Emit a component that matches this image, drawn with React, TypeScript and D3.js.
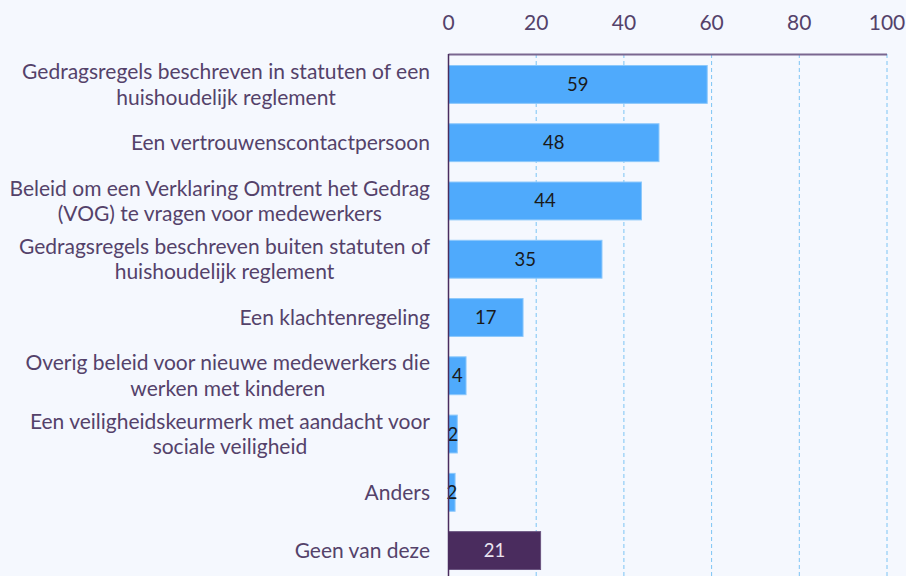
import { useEffect, useRef } from "react";
import * as d3 from "d3";

const categories = [
  ["Gedragsregels beschreven in statuten of een", "huishoudelijk reglement"],
  ["Een vertrouwenscontactpersoon"],
  ["Beleid om een Verklaring Omtrent het Gedrag", "(VOG) te vragen voor medewerkers"],
  ["Gedragsregels beschreven buiten statuten of", "huishoudelijk reglement"],
  ["Een klachtenregeling"],
  ["Overig beleid voor nieuwe medewerkers die", "werken met kinderen"],
  ["Een veiligheidskeurmerk met aandacht voor", "sociale veiligheid"],
  ["Anders"],
  ["Geen van deze"],
];
const values = [59, 48, 44, 35, 17, 4, 2, 1.5, 21];
const labels = ["59", "48", "44", "35", "17", "4", "2", "2", "21"];
const highlighted = [false, false, false, false, false, false, false, false, true];
const ticks = [0, 20, 40, 60, 80, 100];

const W = 906;
const H = 576;
const TEXT = "#54426a";
const BLUE = "#4faafc";
const DARK = "#4a2c5e";

export default function App() {
  const ref = useRef<SVGSVGElement | null>(null);

  useEffect(() => {
    const svg = d3.select(ref.current);
    svg.selectAll("*").remove();

    const x = d3.scaleLinear().domain([0, 100]).range([448.5, 887]);
    const y = d3
      .scaleBand<number>()
      .domain(d3.range(values.length))
      .range([55, 580])
      .paddingInner(0.35)
      .paddingOuter(0.18);

    svg.append("rect").attr("width", W).attr("height", H).attr("fill", "#f5f8fe");

    // gridlines
    svg
      .append("g")
      .selectAll("line")
      .data(ticks.slice(1))
      .join("line")
      .attr("x1", (d) => x(d))
      .attr("x2", (d) => x(d))
      .attr("y1", 54)
      .attr("y2", H)
      .attr("stroke", "#7cc4f4")
      .attr("stroke-width", 1)
      .attr("stroke-dasharray", "4,3");

    // tick labels
    svg
      .append("g")
      .selectAll("text")
      .data(ticks)
      .join("text")
      .attr("x", (d) => x(d))
      .attr("y", 30)
      .attr("text-anchor", "middle")
      .attr("font-family", "Lato")
      .attr("font-size", 21)
      .attr("fill", TEXT)
      .text((d) => d);

    // bars
    svg
      .append("g")
      .selectAll("rect")
      .data(values)
      .join("rect")
      .attr("x", x(0))
      .attr("y", (_, i) => y(i)!)
      .attr("width", (d) => x(d) - x(0))
      .attr("height", y.bandwidth())
      .attr("fill", (_, i) => (highlighted[i] ? DARK : BLUE))
      .attr("stroke", (_, i) => (highlighted[i] ? "#6b5580" : "#8cc8fb"))
      .attr("stroke-width", 1);

    // value labels
    svg
      .append("g")
      .selectAll("text")
      .data(values)
      .join("text")
      .attr("x", (d) => (x(0) + x(d)) / 2)
      .attr("y", (_, i) => y(i)! + y.bandwidth() / 2)
      .attr("dy", "0.35em")
      .attr("text-anchor", "middle")
      .attr("font-family", "Lato")
      .attr("font-size", 18.5)
      .attr("fill", (_, i) => (highlighted[i] ? "#eae4f0" : "#1a1a1a"))
      .text((_, i) => labels[i]);

    // axis lines
    svg
      .append("line")
      .attr("x1", x(0))
      .attr("x2", x(100))
      .attr("y1", 54.5)
      .attr("y2", 54.5)
      .attr("stroke", "#7a6790")
      .attr("stroke-width", 2);
    svg
      .append("line")
      .attr("x1", x(0))
      .attr("x2", x(0))
      .attr("y1", 54)
      .attr("y2", H)
      .attr("stroke", "#4a2c5e")
      .attr("stroke-width", 1.5);

    // category labels: block right-aligned, lines centered within block
    const lineH = 25.5;
    const right = 430;
    categories.forEach((lines, i) => {
      const cy = y(i)! + y.bandwidth() / 2;
      const g = svg.append("g");
      const texts = lines.map((ln, j) =>
        g
          .append("text")
          .attr("y", cy + (j - (lines.length - 1) / 2) * lineH)
          .attr("dy", "0.35em")
          .attr("text-anchor", "middle")
          .attr("font-family", "Lato")
          .attr("font-size", 21)
          .attr("fill", TEXT)
          .text(ln)
      );
      const maxW = d3.max(texts, (t) => (t.node() as SVGTextElement).getComputedTextLength()) || 0;
      texts.forEach((t) => t.attr("x", right - maxW / 2));
    });
  }, []);

  return (
    <svg
      ref={ref}
      width={W}
      height={H}
      style={{ position: "absolute", left: 0, top: 0, display: "block" }}
    />
  );
}
